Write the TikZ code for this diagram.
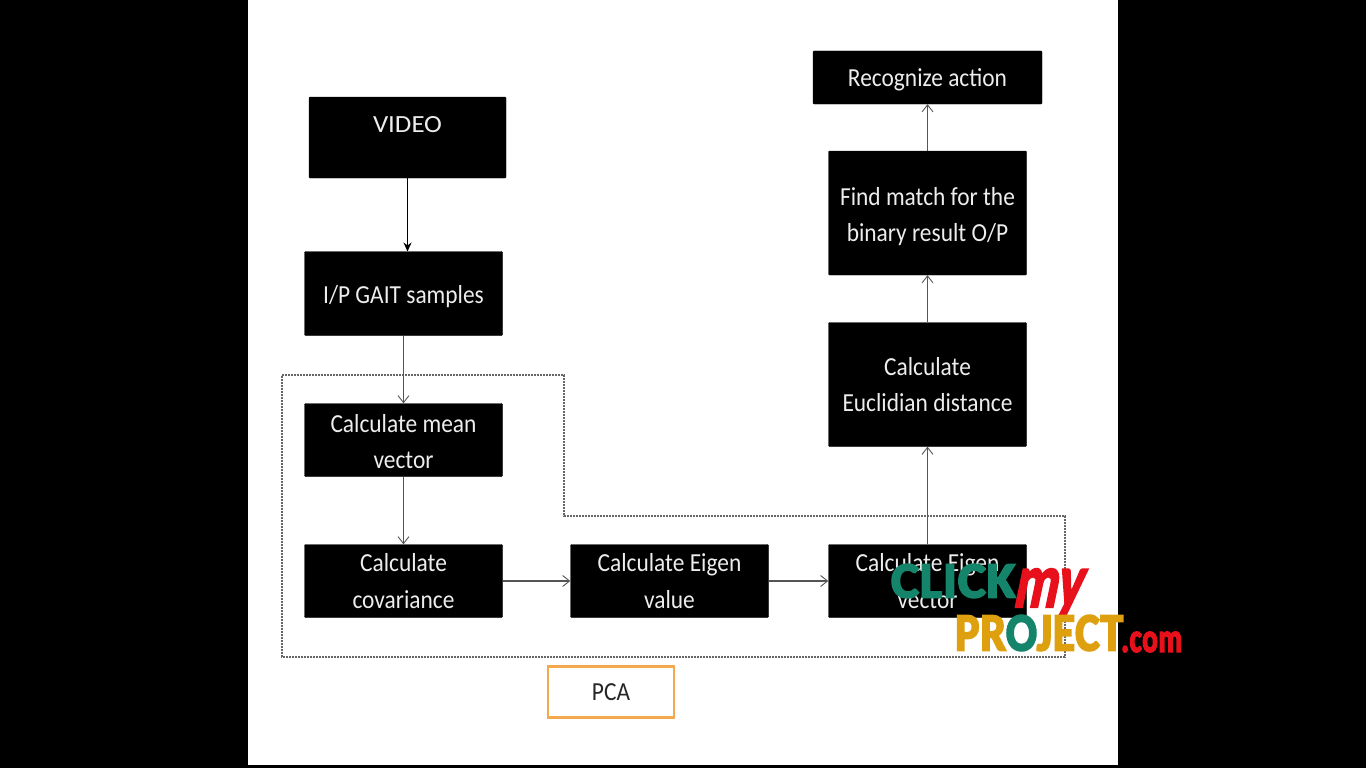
\documentclass[tikz,border=0pt]{standalone}
\usepackage{fontspec}
\usepackage{graphicx}
\setmainfont{Carlito}
\newfontfamily\boxfont[FakeStretch=0.9]{Carlito}
\newfontfamily\wmfont[FakeBold=4,LetterSpace=2]{Carlito Bold}
\newfontfamily\wmslant[FakeBold=3,FakeSlant=0.3]{Carlito Bold}
\usetikzlibrary{arrows.meta}
\definecolor{wmgreen}{HTML}{14856B}
\definecolor{wmgold}{HTML}{DFA010}
\definecolor{wmred}{HTML}{E8101A}
\definecolor{pcaorange}{HTML}{F5A94E}
\definecolor{linegray}{HTML}{555555}
\definecolor{dashgray}{HTML}{666666}
\definecolor{textwhite}{HTML}{EDEDED}
\newcommand{\pushdown}[1]{\rule{0pt}{#1}}
\tikzset{
  x=1pt,y=-1pt,
  blackbox/.style={draw=black,fill=black,rounded corners=1pt,text=textwhite,align=flush center,inner sep=0pt,
    font=\boxfont\fontsize{26}{36.5}\selectfont,text width=#1},
  blackbox/.default=196pt,
  flow/.style={draw=linegray,line width=1.2pt,-{Straight Barb[length=7pt,width=11pt,line width=0.9pt]}},
  solidflow/.style={draw=black,line width=1.2pt,-{Stealth[length=9pt,width=8pt]}},
  groupline/.style={draw=dashgray,line width=1.2pt,dash pattern=on 2pt off 1pt},
  wm/.style={inner sep=0pt},
}
\begin{document}
\begin{tikzpicture}
\useasboundingbox (0,0) rectangle (1366,768);
\fill[black] (0,0) rectangle (1366,768);
\fill[white] (248,0) rectangle (1118,765);

\draw[groupline] (282,375) -- (564,375) -- (564,516) -- (1065,516) -- (1065,657) -- (282,657) -- cycle;

\node[blackbox,minimum width=197pt,minimum height=81pt,text height=16pt,text depth=27pt] (video) at (407.5,137.5) {\resizebox{69pt}{16pt}{VIDEO}};
\node[blackbox,minimum width=198pt,minimum height=84pt] (gait) at (403.5,293.5) {\pushdown{24pt}I/P GAIT samples};
\node[blackbox,minimum width=198pt,minimum height=73pt] (mean) at (403.5,440) {\pushdown{21pt}Calculate mean\\vector};
\node[blackbox,minimum width=198pt,minimum height=73pt] (cov) at (403.5,581) {Calculate\\covariance};
\node[blackbox,minimum width=198pt,minimum height=73pt] (eval) at (669.5,581) {Calculate Eigen\\value};
\node[blackbox,minimum width=198pt,minimum height=73pt] (evec) at (927.5,581) {Calculate Eigen\\vector};
\node[blackbox,minimum width=198pt,minimum height=124pt] (dist) at (927.5,384.5) {Calculate\\Euclidian distance};
\node[blackbox,minimum width=198pt,minimum height=124pt] (match) at (927.5,213) {\pushdown{25pt}Find match for the\\binary result O/P};
\node[blackbox=225pt,minimum width=229pt,minimum height=53pt] (rec) at (927.5,77.5) {\pushdown{23pt}Recognize action};

\node[draw=pcaorange,line width=2.6pt,fill=white,minimum width=126pt,minimum height=51pt,inner sep=0pt,
  font=\boxfont\fontsize{26}{30}\selectfont,text=black!85] (pca) at (611,692) {PCA};

\draw[solidflow] (video) -- (407.5,251.5) coordinate (gaitin);
\draw[flow] (gait) -- (mean);
\draw[flow] (mean) -- (cov);
\draw[flow] (cov) -- (eval);
\draw[flow] (eval) -- (evec);
\draw[flow] (evec) -- (dist);
\draw[flow] (dist) -- (match);
\draw[flow] (match) -- (rec);

\node[wm,text=wmgreen,anchor=west] (wmclick) at (891,581) {\resizebox{124pt}{33pt}{\wmfont CLICK}};
\node[wm,text=wmred,anchor=west] (wmmy) at (1012,594) {\resizebox{68pt}{38pt}{\wmslant my}};
\node[wm,text=wmgold,anchor=west] (wmproject) at (955,633) {\resizebox{168pt}{35pt}{\wmfont PR\textcolor{wmgreen}{O}JECT}};
\node[wm,text=wmred,anchor=west] (wmcom) at (1121,642) {\resizebox{61pt}{20pt}{\wmfont .com}};
\end{tikzpicture}
\end{document}
